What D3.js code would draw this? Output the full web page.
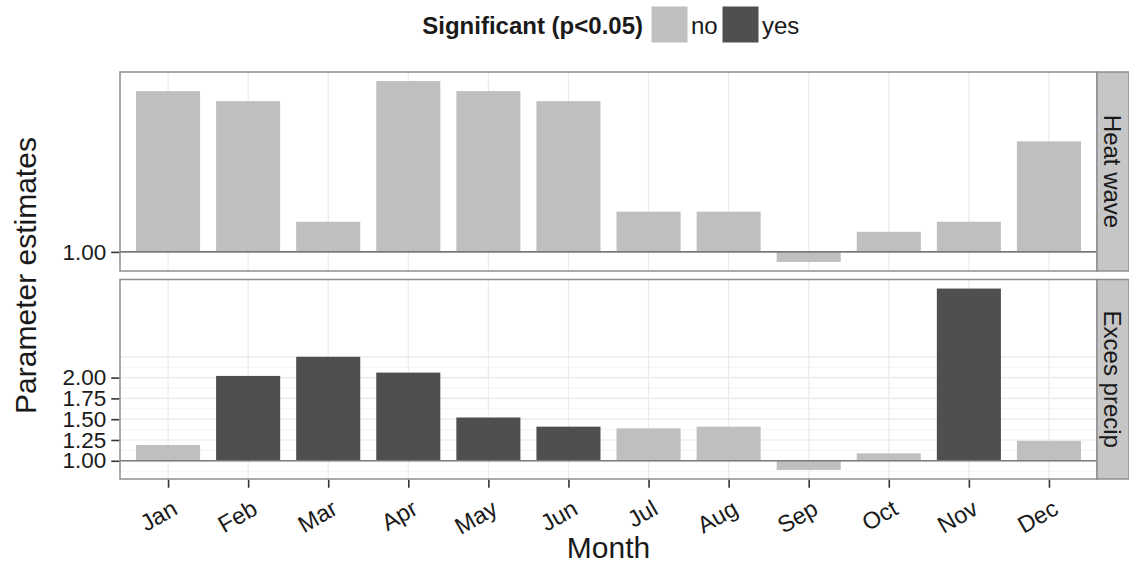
<!DOCTYPE html>
<html><head><meta charset="utf-8">
<script src="https://cdn.jsdelivr.net/npm/d3@7"></script>
<style>
body{margin:0;background:#fff;}
text{font-family:"Liberation Sans",Arial,sans-serif;}
</style></head>
<body><svg id="c" width="1129" height="567"></svg>
<script>
const months = ["Jan","Feb","Mar","Apr","May","Jun","Jul","Aug","Sep","Oct","Nov","Dec"];
const heatWave = [1.016,1.015,1.003,1.017,1.016,1.015,1.004,1.004,0.999,1.002,1.003,1.011];
const heatSig = ["no","no","no","no","no","no","no","no","no","no","no","no"];
const excesPrecip = [1.19,2.02,2.25,2.06,1.52,1.41,1.39,1.41,0.89,1.09,3.07,1.24];
const precipSig = ["no","yes","yes","yes","yes","yes","no","no","no","no","yes","no"];
const heatTicks = [1.00];
const precipTicks = [1.00,1.25,1.50,1.75,2.00];
const precipMajorGrid = [1.00,1.25,1.50,1.75,2.00,2.25];
const precipMinorGrid = [0.875,1.125,1.375,1.625,1.875,2.125];
const sigLevels = ["no","yes"];
const panelNames = ["Heat wave","Exces precip"];

const svg = d3.select("#c");
const L = 120, R = 1097, stripW = 32;
const panels = [
  {name: panelNames[0], vals: heatWave, sig: heatSig, ticks: heatTicks, major: [], minor: [], top: 72, bottom: 271},
  {name: panelNames[1], vals: excesPrecip, sig: precipSig, ticks: precipTicks, major: precipMajorGrid, minor: precipMinorGrid, top: 279.5, bottom: 479}
];
const color = d3.scaleOrdinal().domain(sigLevels).range(["#bfbfbf","#4f4f4f"]);

const step = (R - L) / (months.length - 1 + 1.2);
const x = d3.scalePoint().domain(months).range([L + 0.6*step, R - 0.6*step]);
const barW = step * 0.8;

panels.forEach((p, pi) => {
  const ext = d3.extent(p.vals);
  const pad = (ext[1] - ext[0]) * 0.05;
  const y = d3.scaleLinear().domain([ext[0]-pad, ext[1]+pad]).range([p.bottom, p.top]);
  const g = svg.append("g");
  g.append("rect").attr("x", L).attr("y", p.top).attr("width", R-L).attr("height", p.bottom-p.top).attr("fill","#fff");
  g.selectAll(".mn").data(p.minor).join("line")
    .attr("x1", L).attr("x2", R).attr("y1", d=>y(d)).attr("y2", d=>y(d))
    .attr("stroke","#f3f3f3").attr("stroke-width",1);
  g.selectAll(".mj").data(p.major).join("line")
    .attr("x1", L).attr("x2", R).attr("y1", d=>y(d)).attr("y2", d=>y(d))
    .attr("stroke","#e8e8e8").attr("stroke-width",1.2);
  g.selectAll(".vg").data(months).join("line")
    .attr("x1", d=>x(d)).attr("x2", d=>x(d)).attr("y1", p.top).attr("y2", p.bottom)
    .attr("stroke","#ebebeb").attr("stroke-width",1.2);
  g.selectAll(".bar").data(months).join("rect")
    .attr("x", d=>x(d)-barW/2).attr("width", barW)
    .attr("y", (d,i)=>Math.min(y(p.vals[i]), y(1)))
    .attr("height", (d,i)=>Math.abs(y(p.vals[i]) - y(1)))
    .attr("fill", (d,i)=>color(p.sig[i]));
  g.append("line").attr("x1", L).attr("x2", R).attr("y1", y(1)).attr("y2", y(1))
    .attr("stroke","#7a7a7a").attr("stroke-width",1.6);
  g.append("rect").attr("x", L).attr("y", p.top).attr("width", R-L).attr("height", p.bottom-p.top)
    .attr("fill","none").attr("stroke","#8e8e8e").attr("stroke-width",1.5);
  const ay = g.append("g").attr("transform", `translate(${L-0.75},0)`)
    .call(d3.axisLeft(y).tickValues(p.ticks).tickFormat(d3.format(".2f")).tickSize(8).tickPadding(5));
  ay.select(".domain").remove();
  ay.selectAll(".tick line").attr("stroke","#333").attr("stroke-width",1.6);
  ay.selectAll(".tick text").attr("font-size",22.5).attr("fill","#1a1a1a")
    .attr("font-family","'Liberation Sans',Arial,sans-serif");
  g.append("rect").attr("x", R).attr("y", p.top).attr("width", stripW).attr("height", p.bottom-p.top)
    .attr("fill","#c6c6c6").attr("stroke","#8e8e8e").attr("stroke-width",1.5);
  g.append("text").attr("transform", `translate(${R+stripW/2-1},${(p.top+p.bottom)/2}) rotate(90)`)
    .attr("text-anchor","middle").attr("dy","0.35em").attr("font-size",24).attr("fill","#1a1a1a").text(p.name);
  if (pi === 1) {
    const ax = g.append("g").attr("transform", `translate(0,${p.bottom+0.75})`)
      .call(d3.axisBottom(x).tickSize(8).tickPadding(6));
    ax.select(".domain").remove();
    ax.selectAll(".tick line").attr("stroke","#333").attr("stroke-width",1.6);
    ax.selectAll(".tick text").attr("font-size",23.5).attr("fill","#1a1a1a")
      .attr("font-family","'Liberation Sans',Arial,sans-serif")
      .attr("text-anchor","end").attr("dy","0.8em")
      .attr("transform","translate(-6,5) rotate(-30)");
  }
});

svg.append("text").attr("transform", `translate(36,${(72+479)/2}) rotate(-90)`)
  .attr("text-anchor","middle").attr("font-size",30).attr("fill","#1a1a1a").text("Parameter estimates");
svg.append("text").attr("x", (L+R)/2).attr("y", 558)
  .attr("text-anchor","middle").attr("font-size",30).attr("fill","#1a1a1a").text("Month");

const lg = svg.append("g");
lg.append("text").attr("x", 643).attr("y", 34).attr("text-anchor","end")
  .attr("font-size",24).attr("font-weight","bold").attr("fill","#1a1a1a").text("Significant (p<0.05)");
const keyX = [651, 722];
sigLevels.forEach((s, i) => {
  lg.append("rect").attr("x", keyX[i]).attr("y", 6).attr("width", 37).attr("height", 37)
    .attr("fill", color(s)).attr("stroke","#fff").attr("stroke-width",1);
  lg.append("text").attr("x", keyX[i]+40).attr("y", 34).attr("font-size",24).attr("fill","#1a1a1a").text(s);
});
</script></body></html>
